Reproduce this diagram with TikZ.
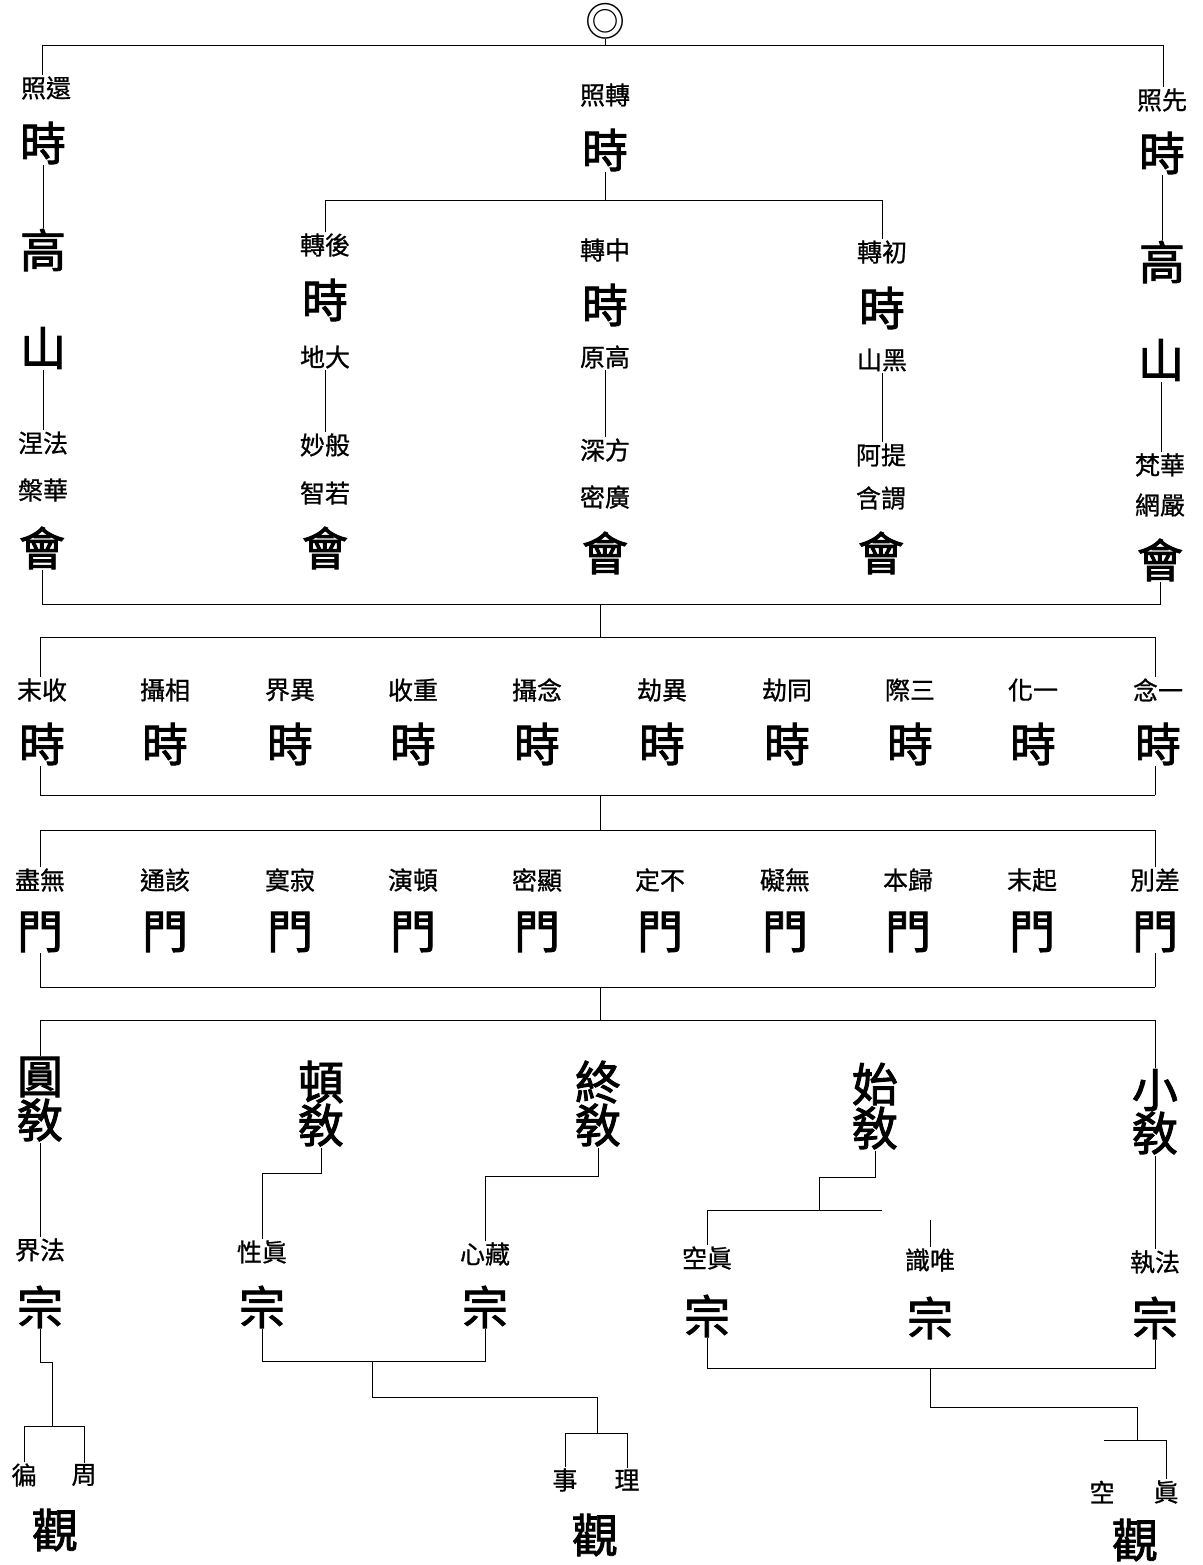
\documentclass[tikz,border=0pt]{standalone}
\usepackage{fontspec}
\newfontfamily\cjk[FakeBold=0.8]{Noto Sans CJK TC}
\newfontfamily\cjkb[FakeBold=2]{Noto Sans CJK TC}
\newfontfamily\cjkplain{Noto Sans CJK TC}
\begin{document}
\begin{tikzpicture}[x=1pt,y=-1pt,
  big/.style={font=\cjkb\fontsize{46}{46}\selectfont, inner sep=1pt},
  sm/.style={font=\cjk\fontsize{25}{25}\selectfont, inner sep=1pt},
  sym/.style={font=\cjkplain\fontsize{40}{40}\selectfont, inner sep=0pt},
  ln/.style={line width=0.9pt, black}]
\fill[white] (0,0) rectangle (1202,1565);
\useasboundingbox (0,0) rectangle (1202,1565);

% ---------- top ----------
\node[sym] (top) at (605,21) {◎};
\coordinate (tl) at (42,45);
\coordinate (tr) at (1163,45);

% column A
\node[sm]  (a1) at (46,88)  {照還};
\node[big] (a2) at (43,143) {時};
\node[big] (a3) at (43,250) {高};
\node[big] (a4) at (43,348) {山};
\node[sm]  (a5) at (43,443) {涅法};
\node[sm]  (a6) at (43,490) {槃華};
\node[big] (a7) at (42,548) {會};

% column B
\node[sm]  (b1) at (605,95)  {照轉};
\node[big] (b2) at (605,150) {時};

% column C
\node[sm]  (c1) at (325,245) {轉後};
\node[big] (c2) at (325,300) {時};
\node[sm]  (c3) at (325,357) {地大};
\node[sm]  (c4) at (325,445) {妙般};
\node[sm]  (c5) at (325,493) {智若};
\node[big] (c6) at (325,548) {會};

% column D
\node[sm]  (d1) at (605,250) {轉中};
\node[big] (d2) at (605,305) {時};
\node[sm]  (d3) at (605,357) {原高};
\node[sm]  (d4) at (605,450) {深方};
\node[sm]  (d5) at (605,497) {密廣};
\node[big] (d6) at (605,553) {會};

% column E
\node[sm]  (e1) at (882,252) {轉初};
\node[big] (e2) at (882,308) {時};
\node[sm]  (e3) at (882,360) {山黑};
\node[sm]  (e4) at (881,455) {阿提};
\node[sm]  (e5) at (881,498) {含謂};
\node[big] (e6) at (881,553) {會};

% column F
\node[sm]  (f1) at (1162,100) {照先};
\node[big] (f2) at (1162,153) {時};
\node[big] (f3) at (1162,262) {高};
\node[big] (f4) at (1161,360) {山};
\node[sm]  (f5) at (1160,465) {梵華};
\node[sm]  (f6) at (1160,505) {網嚴};
\node[big] (f7) at (1160,560) {會};

% top connectors
\draw[ln] (tl) -- (tr);
\draw[ln] (top.south) -- (top.south |- tl);
\draw[ln] (tl) -- (a1.north -| tl);
\draw[ln] (tr) -- (f1.north -| tr);
\draw[ln] (a2.south) -- (a3.north);
\draw[ln] (a4.south) -- (a4.south |- a5.north);
\draw[ln] (f2.south) -- (f2.south |- f3.north);
\draw[ln] (f4.south) -- (f4.south |- f5.north);
\coordinate (bl) at (325,200);
\coordinate (br) at (882,200);
\draw[ln] (b2.south) -- (b2.south |- bl);
\draw[ln] (c1.north) -- (bl) -- (br) -- (e1.north);
\draw[ln] (c3.south) -- (c4.north);
\draw[ln] (d3.south) -- (d4.north);
\draw[ln] (e3.south) -- (e3.south |- e4.north);

% ---------- assembly row connector ----------
\coordinate (h1l) at (42,604);
\coordinate (h1r) at (1160,604);
\coordinate (h1m) at (600,604);
\draw[ln] (a7.south) -- (h1l) -- (h1r) -- (f7.south);

% ---------- time row ----------
\foreach \x/\l [count=\i] in {42/末收,165/攝相,290/界異,413/收重,537/攝念,662/劫異,787/劫同,910/際三,1033/化一,1158/念一}{
  \node[sm]  (s\i) at (\x,690) {\l};
  \node[big] (T\i) at (\x,744) {時};
}
\coordinate (tbl) at (40,637);
\coordinate (tbr) at (1155,637);
\coordinate (tbm) at (600,637);
\coordinate (bbl) at (40,795);
\coordinate (bbr) at (1155,795);
\coordinate (bbm) at (600,795);
\draw[ln] (h1m) -- (tbm);
\draw[ln] (tbl) -- (tbr);
\draw[ln] (bbl) -- (bbr);
\draw[ln] (tbl) -- (s1.north -| tbl);
\draw[ln] (T1.south -| bbl) -- (bbl);
\draw[ln] (tbr) -- (s10.north -| tbr);
\draw[ln] (T10.south -| bbr) -- (bbr);

% ---------- gate row ----------
\foreach \x/\l [count=\i] in {40/盡無,165/通該,290/寞寂,413/演頓,537/密顯,660/定不,785/礙無,908/本歸,1032/末起,1155/別差}{
  \node[sm]  (g\i) at (\x,880) {\l};
  \node[big] (G\i) at (\x,932) {門};
}
\coordinate (gtl) at (40,830);
\coordinate (gtr) at (1155,830);
\coordinate (gtm) at (600,830);
\coordinate (gbl) at (40,987);
\coordinate (gbr) at (1155,987);
\coordinate (gbm) at (600,987);
\draw[ln] (bbm) -- (gtm);
\draw[ln] (gtl) -- (gtr);
\draw[ln] (gbl) -- (gbr);
\draw[ln] (gtl) -- (g1.north -| gtl);
\draw[ln] (G1.south -| gbl) -- (gbl);
\draw[ln] (gtr) -- (g10.north -| gtr);
\draw[ln] (G10.south -| gbr) -- (gbr);

% ---------- teaching row ----------
\node[big] (p1a) at (40,1077)  {圓};
\node[big] (p1b) at (40,1120)  {敎};
\node[big] (p2a) at (321,1082) {頓};
\node[big] (p2b) at (321,1125) {敎};
\node[big] (p3a) at (598,1082) {終};
\node[big] (p3b) at (598,1125) {敎};
\node[big] (p4a) at (875,1084) {始};
\node[big] (p4b) at (875,1128) {敎};
\node[big] (p5a) at (1155,1090) {小};
\node[big] (p5b) at (1155,1133) {敎};
\coordinate (ptl) at (40,1020);
\coordinate (ptr) at (1155,1020);
\coordinate (ptm) at (600,1020);
\draw[ln] (gbm) -- (ptm);
\draw[ln] (p1a.north) -- (ptl) -- (ptr) -- (p5a.north);

% ---------- sect row ----------
\node[sm]  (z1l) at (40,1250)  {界法};
\node[big] (z1)  at (40,1307)  {宗};
\node[sm]  (z2l) at (262,1252) {性眞};
\node[big] (z2)  at (262,1307) {宗};
\node[sm]  (z3l) at (485,1254) {心藏};
\node[big] (z3)  at (485,1307) {宗};
\node[sm]  (z4l) at (707,1258) {空眞};
\node[big] (z4)  at (707,1316) {宗};
\node[sm]  (z5l) at (930,1260) {識唯};
\node[big] (z5)  at (930,1318) {宗};
\node[sm]  (z6l) at (1155,1262) {執法};
\node[big] (z6)  at (1155,1318) {宗};

\draw[ln] (p1b.south) -- (z1l.north);
\coordinate (q1) at (321,1173);
\draw[ln] (p2b.south) -- (q1) -| (z2l.north);
\coordinate (q2) at (598,1176);
\draw[ln] (p3b.south) -- (q2) -| (z3l.north);
\coordinate (q3) at (875,1177);
\coordinate (q4) at (819,1177);
\coordinate (q5) at (819,1210);
\coordinate (q6) at (882,1210);
\draw[ln] (p4b.south) -- (q3) -- (q4) -- (q5);
\draw[ln] (z4l.north) |- (q5) -- (q6);
\coordinate (q7) at (930,1220);
\draw[ln] (q7) -- (z5l.north);
\draw[ln] (p5b.south) -- (z6l.north);

% ---------- contemplation row ----------
\node[sm]  (v1) at (24,1475)  {徧};
\node[sm]  (v2) at (84,1475)  {周};
\node[big] (v3) at (55,1530)  {觀};
\node[sm]  (w1) at (565,1480) {事};
\node[sm]  (w2) at (627,1480) {理};
\node[big] (w3) at (595,1535) {觀};
\node[sm]  (u1) at (1102,1492) {空};
\node[sm]  (u2) at (1166,1492) {眞};
\node[big] (u3) at (1135,1540) {觀};

\coordinate (k1) at (40,1362);
\coordinate (k2) at (52,1362);
\coordinate (k3) at (52,1426);
\draw[ln] (z1.south) -- (k1) -- (k2) -- (k3);
\draw[ln] (v1.north) |- (k3) -| (v2.north);

\coordinate (m1) at (372,1361);
\coordinate (m2) at (372,1397);
\coordinate (m3) at (597,1397);
\coordinate (m4) at (597,1433);
\draw[ln] (z2.south) |- (m1) -| (z3.south);
\draw[ln] (m1) -- (m2) -- (m3) -- (m4);
\draw[ln] (w1.north) |- (m4) -| (w2.north);

\coordinate (r1) at (930,1368);
\coordinate (r2) at (930,1407);
\coordinate (r3) at (1137,1407);
\coordinate (r4) at (1137,1440);
\coordinate (r5) at (1104,1440);
\draw[ln] (z4.south) |- (r1) -| (z6.south);
\draw[ln] (r1) -- (r2) -- (r3) -- (r4);
\draw[ln] (r5) -- (r4) -| (u2.north);
\end{tikzpicture}
\end{document}
